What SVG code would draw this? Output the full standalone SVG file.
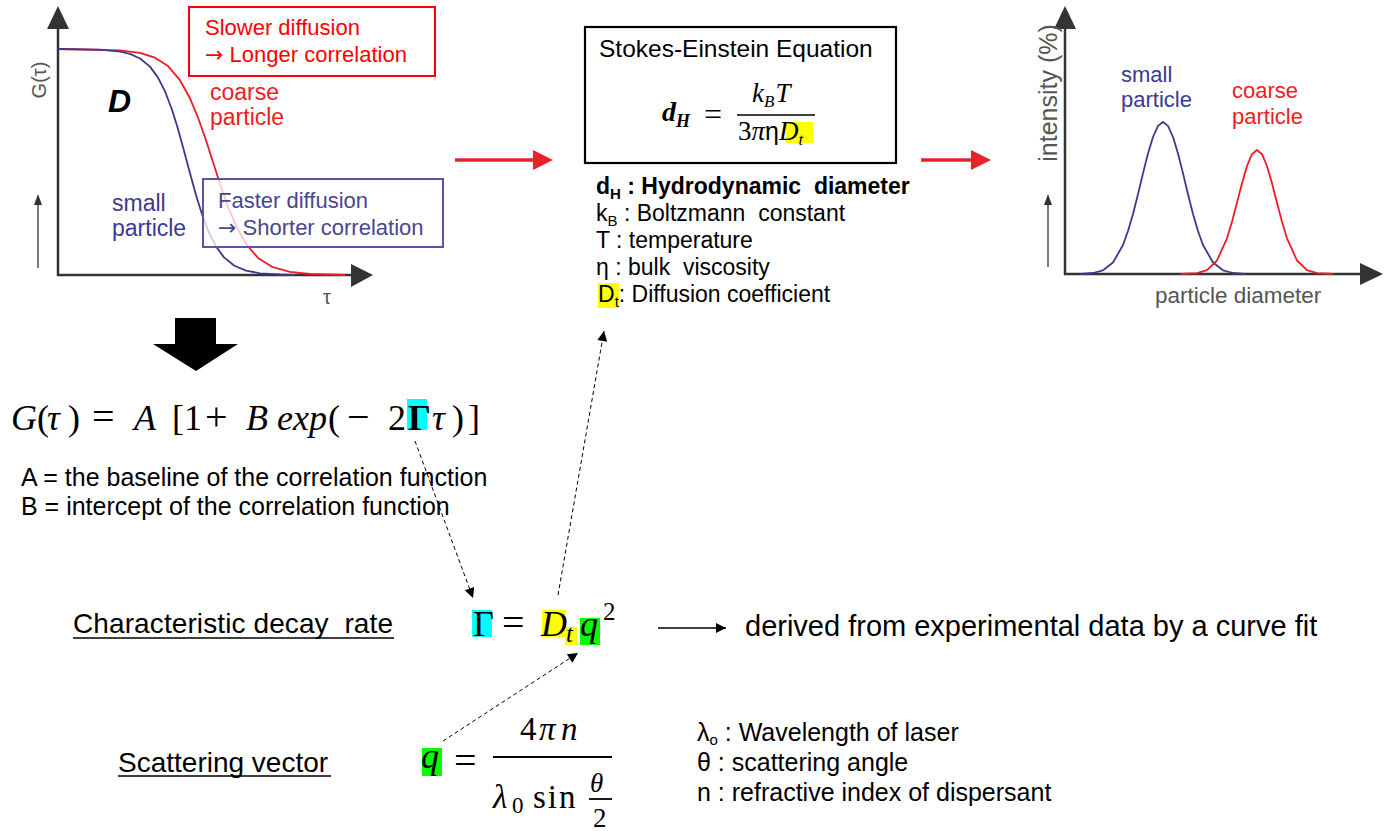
<svg xmlns="http://www.w3.org/2000/svg" width="1384" height="831" viewBox="0 0 1384 831">
<style>
.sans{font-family:"Liberation Sans",Arial,sans-serif}
.serif{font-family:"Liberation Serif","Times New Roman",serif}
.arr{font-family:"DejaVu Sans",sans-serif}
.it{font-style:italic}
.ax{stroke:#333;stroke-width:2.5;fill:none}
.axh{fill:#333}
.blue{fill:#3b3a8f}
.red{fill:#ee1c24}
.gray{fill:#555}
.dash{stroke:#000;stroke-width:1;stroke-dasharray:4 3;fill:none}
.t25{font-size:25px}
.t23{font-size:23px}
.t22{font-size:22px}
</style>
<defs>
<marker id="ah" viewBox="0 0 10 10" refX="10" refY="5" markerUnits="userSpaceOnUse" markerWidth="12" markerHeight="10" orient="auto">
<path d="M0,0 L10,5 L0,10 z" fill="#000"/>
</marker>
</defs>
<rect width="1384" height="831" fill="#fff"/>

<g id="graph-correlation">
<line class="ax" x1="58" y1="276" x2="58" y2="26"/>
<polygon class="axh" points="47,29 58,6 69,29"/>
<line class="ax" x1="57" y1="275" x2="353" y2="275"/>
<polygon class="axh" points="351,264 373,275 351,287"/>
<line x1="38" y1="268" x2="38" y2="203" stroke="#333" stroke-width="1.3"/>
<polygon class="axh" points="34,205 38,194 42,205"/>
<polyline fill="none" stroke="#ee1c24" stroke-width="1.8" stroke-linejoin="round" points="58,49 120,50.3 140,52.8 155,57.7 168,66.1 180,80.2 190,98.3 198,117.5 206,140.3 213,162 220,183.7 228,206.5 236,225.7 246,243.8 258,257.9 272,266.8 290,271.9 310,274 345,275"/>
<polyline fill="none" stroke="#3b3a8f" stroke-width="1.8" stroke-linejoin="round" points="58,49 100,49.7 120,51.6 130,53.9 140,58.5 150,66.6 158,77.6 165,91.3 172,109.8 178,129.1 184,150.8 190,173.2 196,194.9 202,214.2 209,232.7 216,246.4 224,257.4 234,265.5 246,270.6 260,273.3 280,274.5 295,275"/>
<text class="sans gray" font-size="20" transform="translate(46,80) rotate(-90)" text-anchor="middle">G(τ)</text>
<text class="sans gray" font-size="20" x="323" y="304">τ</text>
<text class="sans it" font-size="32" font-weight="bold" x="108" y="112">D</text>
<text class="sans red t23" x="210" y="100">coarse</text>
<text class="sans red t23" x="210" y="125">particle</text>
<text class="sans blue t23" x="112" y="211">small</text>
<text class="sans blue t23" x="112" y="236">particle</text>
</g>

<g id="box-slower">
<rect x="189" y="7" width="246" height="69" fill="none" stroke="#ff0000" stroke-width="2"/>
<text class="sans t22" fill="#ff0000" x="205" y="35">Slower diffusion</text>
<text class="sans t22" fill="#ff0000" x="205" y="62"><tspan class="arr">→</tspan> Longer correlation</text>
</g>

<g id="box-faster">
<rect x="203" y="179" width="240" height="68" fill="#fff" fill-opacity="0.75" stroke="#5b52a0" stroke-width="2"/>
<text class="sans t22" fill="#4a4590" x="218" y="208">Faster diffusion</text>
<text class="sans t22" fill="#4a4590" x="218" y="235"><tspan class="arr">→</tspan> Shorter correlation</text>
</g>

<g id="block-arrow">
<polygon points="175,318 216,318 216,344 238,344 196,371 153,344 175,344" fill="#000"/>
</g>

<g id="stokes-box">
<rect x="585" y="27" width="311" height="136" fill="#fff" stroke="#000" stroke-width="2.2"/>
<text class="sans" font-size="24.5" x="599" y="57">Stokes-Einstein Equation</text>
<rect x="786" y="122" width="27" height="21" fill="#ffff00"/>
<text class="serif it" font-size="28" font-weight="bold" x="662" y="121">d<tspan font-size="18" dy="6">H</tspan></text>
<text class="serif" font-size="32" x="704" y="125">=</text>
<text class="serif it" font-size="27" x="752" y="102">k<tspan font-size="17" dy="5">B</tspan><tspan dy="-5" dx="1">T</tspan></text>
<line x1="737" y1="115" x2="815" y2="115" stroke="#000" stroke-width="1.5"/>
<text class="serif" font-size="27" x="738" y="140">3<tspan class="it">π</tspan><tspan class="sans" font-size="25">η</tspan><tspan class="it">D</tspan><tspan class="it" font-size="17" dy="5">t</tspan></text>
</g>

<g id="stokes-legend">
<text class="sans t23" font-weight="bold" x="596" y="194">d<tspan font-size="15" dy="5">H</tspan><tspan dy="-5"> : Hydrodynamic&#160; diameter</tspan></text>
<text class="sans t23" x="596" y="221">k<tspan font-size="15" dy="5">B</tspan><tspan dy="-5"> : Boltzmann&#160; constant</tspan></text>
<text class="sans t23" x="596" y="248">T : temperature</text>
<text class="sans t23" x="596" y="275">η : bulk&#160; viscosity</text>
<rect x="598" y="283" width="21" height="25" fill="#ffff00"/>
<text class="sans t23" x="598" y="302">D<tspan font-size="15" dy="5">t</tspan><tspan dy="-5">: Diffusion coefficient</tspan></text>
</g>

<g id="graph-distribution">
<line class="ax" x1="1065" y1="275" x2="1065" y2="26"/>
<polygon class="axh" points="1054,29 1065,6 1076,29"/>
<line class="ax" x1="1064" y1="274" x2="1362" y2="274"/>
<polygon class="axh" points="1360,263 1383,274 1360,285"/>
<line x1="1048" y1="267" x2="1048" y2="203" stroke="#333" stroke-width="1.3"/>
<polygon class="axh" points="1044,205 1048,194 1052,205"/>
<polyline fill="none" stroke="#3b3a8f" stroke-width="1.8" stroke-linejoin="round" points="1081,274 1093,273 1103,270.3 1113,262.5 1123,245 1128,231 1133,214 1138,194.3 1143,173.4 1148,153.5 1153,137 1158,125.9 1163,122 1168,125.9 1173,137 1178,153.5 1183,173.4 1188,194.3 1193,214 1198,231 1203,245 1213,262.5 1223,270.3 1233,273 1245,274"/>
<polyline fill="none" stroke="#ee1c24" stroke-width="1.8" stroke-linejoin="round" points="1181,274 1197,273.2 1207,270.1 1217,260.5 1227,238.3 1232,221.8 1237,202.7 1242,183.2 1247,166 1252,154.2 1257,150 1262,154.2 1267,166 1272,183.2 1277,202.7 1282,221.8 1287,238.3 1297,260.5 1307,270.1 1317,273.2 1333,274"/>
<text class="sans gray" font-size="25" transform="translate(1057,93) rotate(-90)" text-anchor="middle">intensity (%)</text>
<text class="sans blue t22" x="1121" y="82">small</text>
<text class="sans blue t22" x="1121" y="107">particle</text>
<text class="sans red t22" x="1232" y="98">coarse</text>
<text class="sans red t22" x="1232" y="124">particle</text>
<text class="sans gray" font-size="22.5" x="1155" y="303">particle diameter</text>
</g>

<g id="g-equation">
<rect x="407" y="399" width="20" height="31" fill="#00ffff"/>
<text class="serif" font-size="36" y="430"><tspan class="it" x="11">G</tspan><tspan x="37">(</tspan><tspan class="it" x="47">τ</tspan><tspan x="68">)</tspan><tspan x="92" font-size="40">=</tspan><tspan class="it" x="134">A</tspan><tspan x="172">[</tspan><tspan x="184">1</tspan><tspan x="205" font-size="40">+</tspan><tspan class="it" x="246">B</tspan><tspan class="it" x="277">exp</tspan><tspan x="328">(</tspan><tspan x="347" font-size="40">−</tspan><tspan x="388">2</tspan><tspan x="408" font-weight="bold">Γ</tspan><tspan class="it" x="432">τ</tspan><tspan x="452">)</tspan><tspan x="468">]</tspan></text>
<text class="sans t25" x="21" y="486">A = the baseline of the correlation function</text>
<text class="sans t25" x="21" y="515">B = intercept of the correlation function</text>
</g>

<g id="decay-rate">
<text class="sans" font-size="28" x="73" y="633" textLength="320">Characteristic decay&#160; rate</text>
<line x1="73" y1="638" x2="394" y2="638" stroke="#000" stroke-width="1.5"/>
<rect x="472" y="610" width="20" height="27" fill="#00ffff"/>
<rect x="542" y="610" width="24" height="27" fill="#ffff00"/>
<rect x="565" y="627" width="12" height="18" fill="#ffff00"/>
<rect x="580" y="618" width="20" height="27" fill="#00ff00"/>
<text class="serif" font-size="36" y="636"><tspan x="473">Γ</tspan><tspan x="502" font-size="40">=</tspan><tspan class="it" x="541">D</tspan><tspan class="it" font-size="25" x="566" dy="6">t</tspan><tspan class="it" x="580" dy="-6">q</tspan><tspan font-size="25" x="603" dy="-16">2</tspan></text>
<text class="sans" font-size="29" x="745" y="636">derived from experimental data by a curve fit</text>
</g>

<g id="scattering">
<text class="sans" font-size="28" x="118" y="772">Scattering vector</text>
<line x1="118" y1="776" x2="331" y2="776" stroke="#000" stroke-width="1.5"/>
<rect x="422" y="748" width="20" height="28" fill="#00ff00"/>
<text class="serif it" font-size="36" x="421" y="768">q</text>
<text class="serif" font-size="40" x="454" y="774">=</text>
<text class="serif" font-size="33" y="740"><tspan x="520">4</tspan><tspan class="it" x="539">π</tspan><tspan class="it" x="561">n</tspan></text>
<line x1="493" y1="757" x2="612" y2="757" stroke="#000" stroke-width="2"/>
<text class="serif" font-size="33" y="808"><tspan class="it" x="493">λ</tspan><tspan font-size="23" x="512" dy="5">0</tspan><tspan x="533" dy="-5" letter-spacing="2">sin</tspan></text>
<text class="serif it" font-size="27" x="590" y="792">θ</text>
<line x1="589" y1="799" x2="612" y2="799" stroke="#000" stroke-width="1.8"/>
<text class="serif" font-size="27" x="593" y="827">2</text>
<text class="sans t25" x="697" y="741">λ<tspan font-size="15" dy="4">o</tspan><tspan dy="-4"> : Wavelength of laser</tspan></text>
<text class="sans t25" x="697" y="771">θ : scattering angle</text>
<text class="sans t25" x="697" y="801">n : refractive index of dispersant</text>
</g>

<g id="connectors">
<line x1="455" y1="160" x2="535" y2="160" stroke="#e52329" stroke-width="3.5"/>
<polygon points="533,150 553,160 533,170" fill="#e52329"/>
<line x1="921" y1="160" x2="973" y2="160" stroke="#e52329" stroke-width="3.5"/>
<polygon points="971,150 991,160 971,170" fill="#e52329"/>
<path class="dash" d="M415,441 L473,598" marker-end="url(#ah)"/>
<path class="dash" d="M558,595 L604,331" marker-end="url(#ah)"/>
<path class="dash" d="M443,741 L578,653" marker-end="url(#ah)"/>
<path d="M658,628 L726,628" stroke="#000" stroke-width="1.3" fill="none" marker-end="url(#ah)"/>
</g>
</svg>
